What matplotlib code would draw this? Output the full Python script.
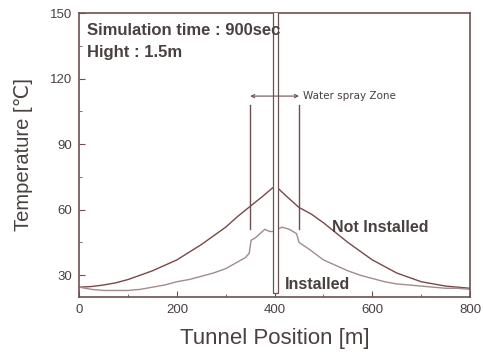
import matplotlib
matplotlib.use("Agg")
import matplotlib.pyplot as plt
from matplotlib.ticker import MultipleLocator
import matplotlib.patches as mpatches

plt.rcParams['font.family'] = ['Liberation Sans', 'DejaVu Sans']

# tunnel temperature at 1.5 m height, 900 s
pos_not = [0, 25, 50, 75, 100, 125, 150, 175, 200, 225, 250, 275, 300, 325, 350, 375, 396,
           406, 425, 450, 475, 500, 525, 550, 575, 600, 625, 650, 675, 700, 725, 750, 775, 800]
temp_not = [24.5, 24.8, 25.5, 26.5, 28, 30, 32, 34.5, 37, 40.5, 44, 48, 52, 57, 61.5, 66, 70,
            70, 66, 61, 58, 54, 49.5, 45, 41, 37, 34, 31, 29, 27, 26, 25, 24.5, 24]

pos_inst = [0, 25, 50, 75, 100, 125, 150, 175, 200, 225, 250, 275, 300, 320, 340, 348, 352,
            360, 370, 380, 390, 396, 406, 415, 430, 445, 450, 460, 470, 485, 500, 525, 550,
            575, 600, 625, 650, 675, 700, 725, 750, 775, 800]
temp_inst = [24.5, 23.5, 23, 23, 23, 23.5, 24.5, 25.5, 27, 28, 29.5, 31, 33, 35.5, 38, 40, 46,
             47, 49, 51, 50, 50, 51, 52, 51, 49, 45, 43.5, 42, 39.5, 37, 34.5, 32,
             30, 28.5, 27, 26, 25.5, 25, 24.5, 24, 24, 23.5]

zone = [350, 450]
fire = [396, 406]

c_not = '#7a4848'
c_inst = '#a08c8c'
c_axis = '#6e5050'
c_text = '#4a4040'

fig = plt.figure(figsize=(4.83, 3.54), dpi=100)
ax = fig.add_axes([0.164, 0.161, 0.809, 0.802])

ax.plot(pos_not, temp_not, color=c_not, lw=1.0)
ax.plot(pos_inst, temp_inst, color=c_inst, lw=1.0)

# fire source strip
ax.add_patch(mpatches.Rectangle((fire[0], 22), fire[1] - fire[0], 130,
                                facecolor='white', edgecolor=c_axis, lw=0.9, zorder=3))

# water spray zone markers
for x in zone:
    ax.plot([x, x], [51, 108], color=c_axis, lw=1.0)
ax.annotate('', xy=(zone[0], 112), xytext=(zone[1], 112),
            arrowprops=dict(arrowstyle='<->', color=c_axis, lw=0.8,
                            shrinkA=0, shrinkB=0, mutation_scale=6), zorder=4)
ax.text(458, 112, 'Water spray Zone', fontsize=7.5, color=c_text, va='center',
        family='DejaVu Sans')

ax.text(16, 142, 'Simulation time : 900sec', fontsize=12, fontweight='bold',
        color=c_text, va='center')
ax.text(16, 132, 'Hight : 1.5m', fontsize=12, fontweight='bold',
        color=c_text, va='center')
ax.text(518, 52, 'Not Installed', fontsize=11.5, fontweight='bold',
        color=c_text, va='center')
ax.text(422, 25.5, 'Installed', fontsize=11.5, fontweight='bold',
        color=c_text, va='center')

ax.set_xlim(0, 800)
ax.set_ylim(20, 150)
ax.xaxis.set_major_locator(MultipleLocator(200))
ax.xaxis.set_minor_locator(MultipleLocator(100))
ax.yaxis.set_minor_locator(MultipleLocator(15))
ax.set_yticks([30, 60, 90, 120, 150])
ax.tick_params(which='both', direction='in', colors=c_axis, labelcolor=c_text,
               labelsize=9.5)
ax.tick_params(which='major', length=4, pad=5)
ax.tick_params(which='minor', length=2)
for s in ax.spines.values():
    s.set_color(c_axis)
    s.set_linewidth(1.2)

ax.set_xlabel('Tunnel Position [m]', fontsize=16, color=c_text, labelpad=9)
ax.set_ylabel('Temperature [℃]', fontsize=14.5, color=c_text, labelpad=12)

fig.savefig('out.png', dpi=100)
